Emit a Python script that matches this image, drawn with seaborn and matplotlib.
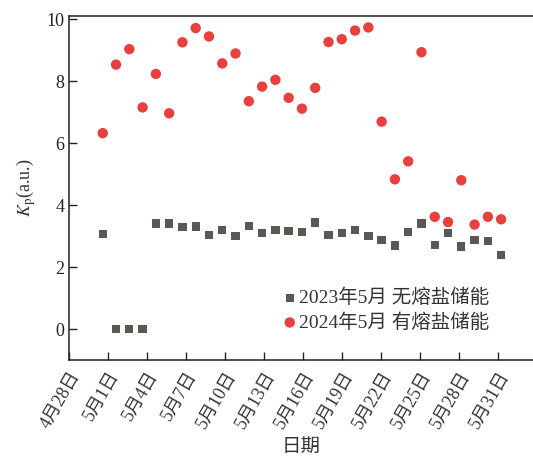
import numpy as np
import pandas as pd
import matplotlib.pyplot as plt
import seaborn as sns

# data: May days 1..31
days = np.arange(1, 32)
kp_2023 = [3.07, 0.0, 0.0, 0.0, 3.40, 3.40, 3.29, 3.31, 3.04, 3.20,
           3.01, 3.32, 3.09, 3.20, 3.17, 3.13, 3.44, 3.03, 3.10, 3.19,
           2.99, 2.88, 2.69, 3.12, 3.40, 2.70, 3.10, 2.66, 2.88, 2.84, 2.38]
kp_2024 = [6.32, 8.53, 9.03, 7.15, 8.23, 6.96, 9.25, 9.71, 9.44, 8.57,
           8.89, 7.35, 7.82, 8.04, 7.46, 7.11, 7.78, 9.26, 9.35, 9.63,
           9.73, 6.69, 4.83, 5.41, 8.93, 3.62, 3.45, 4.80, 3.37, 3.62, 3.54]
labels_2023 = '2023年5月 无熔盐储能'
labels_2024 = '2024年5月 有熔盐储能'
tick_labels = ['4月28日', '5月1日', '5月4日', '5月7日', '5月10日', '5月13日',
               '5月16日', '5月19日', '5月22日', '5月25日', '5月28日', '5月31日']

df23 = pd.DataFrame({'day': days, 'kp': kp_2023})
df24 = pd.DataFrame({'day': days, 'kp': kp_2024})

sns.set_style('ticks')
plt.rcParams['font.family'] = ['Liberation Serif', 'Noto Sans CJK SC']
plt.rcParams['mathtext.fontset'] = 'stix'

fig = plt.figure(figsize=(5.33, 4.59), dpi=100)
ax = fig.add_axes([0.1295, 0.2157, 0.8705, 0.7495])

sns.scatterplot(data=df23, x='day', y='kp', marker='s', s=36, color='#5b5753',
                edgecolor='none', label=labels_2023, ax=ax)
sns.scatterplot(data=df24, x='day', y='kp', marker='o', s=56, color='#e8403e',
                edgecolor='none', label=labels_2024, ax=ax)

ax.set_xlim(-1.54, 33.4)
ax.set_ylim(-1.0, 10.1)
ax.set_xticks(np.linspace(-1.54, 30.77, 12))
ax.set_xticklabels(tick_labels, rotation=60, ha='right', va='top',
                   rotation_mode='anchor', fontsize=14, color='#333333')
ax.set_yticks([0, 2, 4, 6, 8, 10])
ax.tick_params(direction='in', length=6, width=1, labelsize=13, colors='#222222')
ax.tick_params(axis='x', pad=6, labelcolor='#333333')

for side in ['left', 'bottom', 'top']:
    ax.spines[side].set_color('#222222')
    ax.spines[side].set_linewidth(1.1)
ax.spines['right'].set_visible(False)

ax.set_xlabel('日期', fontsize=14, color='#333333', labelpad=5)
ax.set_ylabel(r'$K_{\rm p}$(a.u.)', fontsize=13, color='#333333', labelpad=6)

leg = ax.legend(loc='lower left', bbox_to_anchor=(0.44, 0.06), frameon=False,
                fontsize=14, handletextpad=0.05, borderaxespad=0, labelspacing=0.3,
                handlelength=0.9)
for t in leg.get_texts():
    t.set_color('#333333')

plt.savefig('out.png', dpi=100)
